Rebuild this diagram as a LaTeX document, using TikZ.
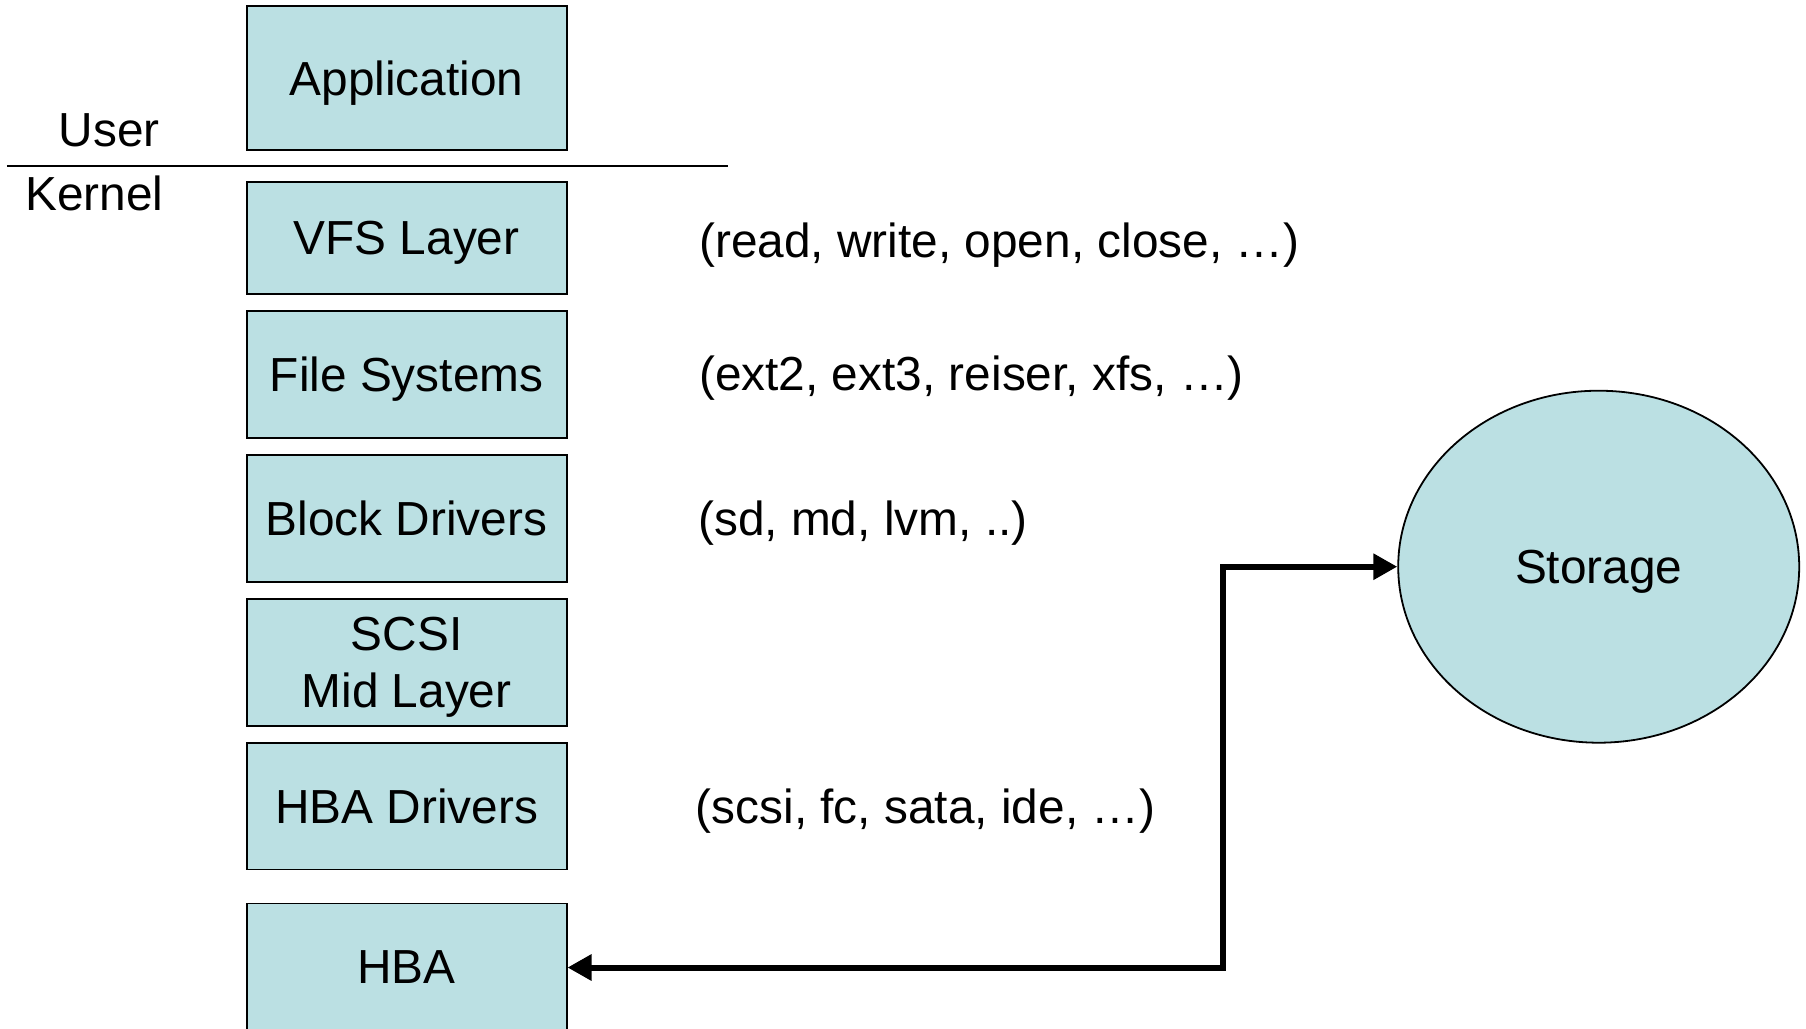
\documentclass[tikz,border=0pt]{standalone}
\usepackage{fontspec}
\setmainfont{Liberation Sans}
\usetikzlibrary{arrows.meta,shapes.geometric}
\definecolor{layerfill}{RGB}{187,224,227}
\tikzset{
  x=1pt, y=-1pt,
  bigtext/.style={font=\fontsize{47.8}{57.6}\selectfont},
  layer/.style={draw=black, line width=1.8pt, fill=layerfill, rectangle,
    minimum width=320pt, align=center, inner sep=0pt, text depth=0pt, bigtext},
  lbl/.style={anchor=west, inner sep=0pt, bigtext},
  conn/.style={line width=6pt, {Triangle[length=24pt,width=25pt]}-{Triangle[length=24pt,width=25pt]}}
}
\begin{document}
\begin{tikzpicture}
\useasboundingbox (0,0) rectangle (1806,1028);
\begin{scope}
\clip (0,0) rectangle (1806,1028);
% kernel stack
\node[layer, minimum height=144pt] (app) at (406.6,77.7) {Application};
\node[layer, minimum height=111.7pt] (vfs) at (406.6,237.8) {VFS Layer};
\node[layer, minimum height=126.7pt] (fs) at (406.6,374.3) {File Systems};
\node[layer, minimum height=126.7pt] (blk) at (406.6,518.3) {Block Drivers};
\node[layer, minimum height=126.6pt] (scsi) at (406.6,662.3) {SCSI\\Mid Layer};
\node[layer, minimum height=126.7pt] (hbad) at (406.6,806.2) {HBA Drivers};
\node[layer, minimum height=128pt] (hba) at (406.6,967.5) {HBA};
% storage device
\node[draw=black, line width=1.8pt, fill=layerfill, ellipse, minimum width=401pt,
  minimum height=352pt, inner sep=0pt, text depth=0pt, bigtext]
  (st) at (1598.7,566.7) {Storage};
\end{scope}
% user / kernel boundary
\coordinate (divl) at (6.9,165.9);
\coordinate (divr) at (728,165.9);
\draw[line width=1.6pt] (divl) -- (divr);
\node[bigtext, inner sep=0pt] (user) at (109.4,130.2) {User};
\node[bigtext, inner sep=0pt] (kern) at (94.4,193.5) {Kernel};
% annotations
\node[lbl] (l1) at (699,245.4) {(read, write, open, close, …)};
\node[lbl] (l2) at (699,377.8) {(ext2, ext3, reiser, xfs, …)};
\node[lbl] (l3) at (698,523) {(sd, md, lvm, ..)};
\node[lbl] (l4) at (695.7,810.9) {(scsi, fc, sata, ide, …)};
% data path HBA <-> storage
\coordinate (turn) at (1223,0);
\draw[conn] (hba.east) -- (hba.east -| turn) |- (st.west);
\end{tikzpicture}
\end{document}
